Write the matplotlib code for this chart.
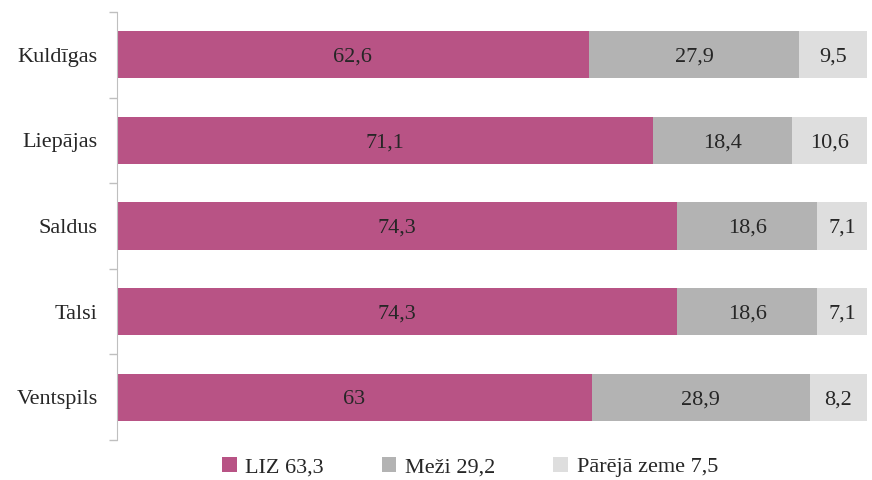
import numpy as np
import matplotlib.pyplot as plt

plt.rcParams['font.family'] = ['Liberation Serif', 'DejaVu Serif']

regions = ['Kuldīgas', 'Liepājas', 'Saldus', 'Talsi', 'Ventspils']
liz = [62.6, 71.1, 74.3, 74.3, 63]
mezi = [27.9, 18.4, 18.6, 18.6, 28.9]
other = [9.5, 10.6, 7.1, 7.1, 8.2]
series_names = ['LIZ 63,3', 'Meži 29,2', 'Pārējā zeme 7,5']
colors = ['#B85385', '#B3B3B3', '#DEDEDE']


def fmt(v):
    s = f'{v:g}'
    return s.replace('.', ',')


fig = plt.figure(figsize=(8.72, 4.8), dpi=100)
ax = fig.add_axes([117 / 872, 40 / 480, 750 / 872, 428 / 480])

y = np.arange(len(regions))
left = np.zeros(len(regions))
for vals, name, col in zip([liz, mezi, other], series_names, colors):
    bars = ax.barh(y, vals, left=left, height=0.55, color=col, label=name)
    for b, v in zip(bars, vals):
        # the last segment is cut at the axis edge, centre its label on the visible part
        x0 = b.get_x()
        x1 = min(x0 + b.get_width(), 99.5)
        ax.text((x0 + x1) / 2, b.get_y() + b.get_height() / 2,
                fmt(v), ha='center', va='center_baseline', fontsize=16, color='#262626')
    left += np.array(vals)

ax.set_xlim(0, 99.5)
ax.set_ylim(len(regions) - 0.5, -0.5)
ax.set_yticks(y)
ax.set_yticklabels(regions, fontsize=16, color='#262626', va='center_baseline')
ax.set_yticks(np.arange(-0.5, len(regions)), minor=True)
ax.tick_params(axis='y', which='major', length=0, pad=14)
ax.tick_params(axis='y', which='minor', length=6, color='#BFBFBF', width=1)
ax.set_xticks([])
for s in ['top', 'right', 'bottom']:
    ax.spines[s].set_visible(False)
ax.spines['left'].set_color('#BFBFBF')

fig.legend(loc='center', bbox_to_anchor=(470 / 872, 1 - 467 / 480), ncol=3, frameon=False,
           fontsize=16, handlelength=0.65, handleheight=0.65, columnspacing=2.6,
           handletextpad=0.4, labelcolor='#262626')

fig.savefig('out.png', dpi=100)
